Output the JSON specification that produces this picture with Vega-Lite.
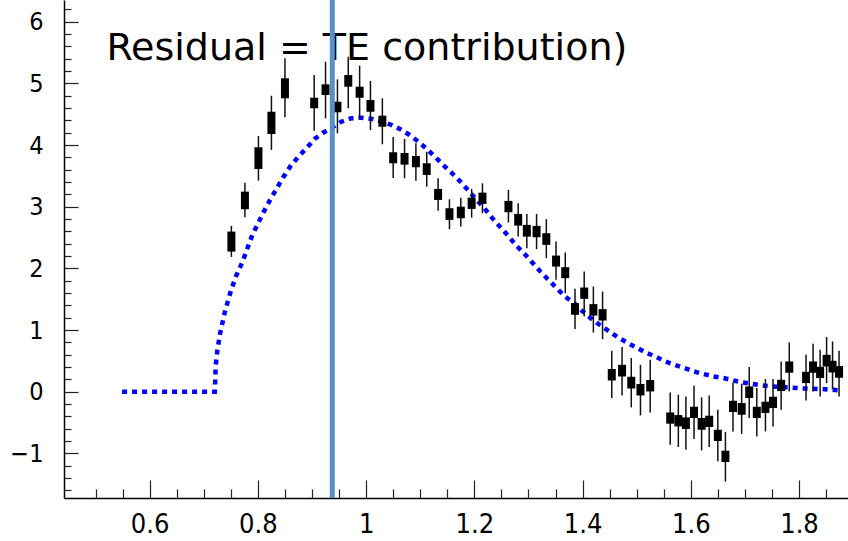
{
  "$schema": "https://vega.github.io/schema/vega-lite/v6.json",
  "width": 784,
  "height": 498,
  "autosize": {"type": "none"},
  "padding": {"left": 64, "top": 0, "right": 0, "bottom": 43},
  "background": "white",
  "config": {
    "view": {"stroke": null},
    "axis": {
      "grid": false,
      "domainColor": "black",
      "domainWidth": 1.5,
      "tickColor": "#222222",
      "tickWidth": 1.2,
      "labelFont": "Liberation Sans Narrow, DejaVu Sans Condensed, Liberation Sans",
      "labelColor": "black",
      "labelOverlap": false,
      "labelFlush": false,
      "title": null
    }
  },
  "resolve": {"axis": {"x": "independent", "y": "independent"}},
  "datasets": {
    "pts": [
      {"x": 0.751, "blo": 2.273, "bhi": 2.597, "ylo": 2.187, "yhi": 2.690},
      {"x": 0.776, "blo": 2.960, "bhi": 3.245, "ylo": 2.830, "yhi": 3.391},
      {"x": 0.801, "blo": 3.613, "bhi": 3.965, "ylo": 3.423, "yhi": 4.148},
      {"x": 0.825, "blo": 4.180, "bhi": 4.541, "ylo": 3.921, "yhi": 4.801},
      {"x": 0.850, "blo": 4.759, "bhi": 5.083, "ylo": 4.451, "yhi": 5.407},
      {"x": 0.904, "blo": 4.597, "bhi": 4.768, "ylo": 4.234, "yhi": 5.136},
      {"x": 0.925, "blo": 4.812, "bhi": 4.985, "ylo": 4.434, "yhi": 5.352},
      {"x": 0.947, "blo": 4.532, "bhi": 4.703, "ylo": 4.191, "yhi": 5.066},
      {"x": 0.967, "blo": 4.947, "bhi": 5.136, "ylo": 4.597, "yhi": 5.433},
      {"x": 0.988, "blo": 4.768, "bhi": 4.947, "ylo": 4.423, "yhi": 5.287},
      {"x": 1.008, "blo": 4.541, "bhi": 4.731, "ylo": 4.245, "yhi": 5.039},
      {"x": 1.030, "blo": 4.298, "bhi": 4.477, "ylo": 4.013, "yhi": 4.759},
      {"x": 1.050, "blo": 3.705, "bhi": 3.884, "ylo": 3.467, "yhi": 4.132},
      {"x": 1.071, "blo": 3.683, "bhi": 3.872, "ylo": 3.462, "yhi": 4.099},
      {"x": 1.092, "blo": 3.641, "bhi": 3.824, "ylo": 3.423, "yhi": 4.029},
      {"x": 1.112, "blo": 3.516, "bhi": 3.705, "ylo": 3.326, "yhi": 3.893},
      {"x": 1.133, "blo": 3.111, "bhi": 3.289, "ylo": 2.937, "yhi": 3.462},
      {"x": 1.154, "blo": 2.787, "bhi": 2.976, "ylo": 2.636, "yhi": 3.122},
      {"x": 1.175, "blo": 2.814, "bhi": 3.002, "ylo": 2.678, "yhi": 3.148},
      {"x": 1.195, "blo": 2.965, "bhi": 3.148, "ylo": 2.824, "yhi": 3.289},
      {"x": 1.215, "blo": 3.046, "bhi": 3.229, "ylo": 2.895, "yhi": 3.381},
      {"x": 1.263, "blo": 2.911, "bhi": 3.095, "ylo": 2.743, "yhi": 3.273},
      {"x": 1.281, "blo": 2.694, "bhi": 2.884, "ylo": 2.516, "yhi": 3.057},
      {"x": 1.297, "blo": 2.516, "bhi": 2.706, "ylo": 2.328, "yhi": 2.884},
      {"x": 1.315, "blo": 2.506, "bhi": 2.690, "ylo": 2.312, "yhi": 2.884},
      {"x": 1.333, "blo": 2.382, "bhi": 2.571, "ylo": 2.166, "yhi": 2.798},
      {"x": 1.351, "blo": 2.030, "bhi": 2.208, "ylo": 1.815, "yhi": 2.435},
      {"x": 1.368, "blo": 1.842, "bhi": 2.020, "ylo": 1.599, "yhi": 2.257},
      {"x": 1.386, "blo": 1.248, "bhi": 1.437, "ylo": 1.016, "yhi": 1.669},
      {"x": 1.403, "blo": 1.507, "bhi": 1.690, "ylo": 1.220, "yhi": 1.949},
      {"x": 1.420, "blo": 1.236, "bhi": 1.421, "ylo": 0.961, "yhi": 1.706},
      {"x": 1.437, "blo": 1.155, "bhi": 1.340, "ylo": 0.854, "yhi": 1.625},
      {"x": 1.454, "blo": 0.183, "bhi": 0.368, "ylo": -0.102, "yhi": 0.664},
      {"x": 1.473, "blo": 0.248, "bhi": 0.437, "ylo": -0.060, "yhi": 0.724},
      {"x": 1.490, "blo": 0.053, "bhi": 0.243, "ylo": -0.254, "yhi": 0.546},
      {"x": 1.507, "blo": -0.060, "bhi": 0.125, "ylo": -0.384, "yhi": 0.437},
      {"x": 1.525, "blo": 0.005, "bhi": 0.190, "ylo": -0.335, "yhi": 0.518},
      {"x": 1.562, "blo": -0.518, "bhi": -0.335, "ylo": -0.859, "yhi": -0.011},
      {"x": 1.577, "blo": -0.562, "bhi": -0.378, "ylo": -0.896, "yhi": -0.049},
      {"x": 1.591, "blo": -0.604, "bhi": -0.416, "ylo": -0.940, "yhi": -0.076},
      {"x": 1.606, "blo": -0.426, "bhi": -0.243, "ylo": -0.766, "yhi": 0.097},
      {"x": 1.620, "blo": -0.616, "bhi": -0.426, "ylo": -0.951, "yhi": -0.092},
      {"x": 1.634, "blo": -0.572, "bhi": -0.389, "ylo": -0.896, "yhi": -0.060},
      {"x": 1.650, "blo": -0.799, "bhi": -0.616, "ylo": -1.129, "yhi": -0.292},
      {"x": 1.664, "blo": -1.139, "bhi": -0.956, "ylo": -1.458, "yhi": -0.653},
      {"x": 1.678, "blo": -0.329, "bhi": -0.146, "ylo": -0.643, "yhi": 0.141},
      {"x": 1.694, "blo": -0.373, "bhi": -0.183, "ylo": -0.685, "yhi": 0.130},
      {"x": 1.708, "blo": -0.102, "bhi": 0.086, "ylo": -0.426, "yhi": 0.400},
      {"x": 1.722, "blo": -0.426, "bhi": -0.243, "ylo": -0.724, "yhi": 0.060},
      {"x": 1.738, "blo": -0.345, "bhi": -0.162, "ylo": -0.643, "yhi": 0.206},
      {"x": 1.752, "blo": -0.264, "bhi": -0.081, "ylo": -0.562, "yhi": 0.206},
      {"x": 1.767, "blo": 0.011, "bhi": 0.194, "ylo": -0.292, "yhi": 0.491},
      {"x": 1.782, "blo": 0.308, "bhi": 0.491, "ylo": 0.005, "yhi": 0.799},
      {"x": 1.813, "blo": 0.141, "bhi": 0.324, "ylo": -0.141, "yhi": 0.599},
      {"x": 1.826, "blo": 0.308, "bhi": 0.491, "ylo": 0.005, "yhi": 0.778},
      {"x": 1.839, "blo": 0.222, "bhi": 0.405, "ylo": -0.076, "yhi": 0.680},
      {"x": 1.851, "blo": 0.410, "bhi": 0.599, "ylo": 0.141, "yhi": 0.886},
      {"x": 1.862, "blo": 0.313, "bhi": 0.502, "ylo": 0.044, "yhi": 0.815},
      {"x": 1.874, "blo": 0.227, "bhi": 0.416, "ylo": -0.076, "yhi": 0.664}
    ],
    "curve": [
      {"x": 0.549, "y": 0.0},
      {"x": 0.7204, "y": 0.0},
      {"x": 0.722, "y": 0.42},
      {"x": 0.725, "y": 0.667},
      {"x": 0.730, "y": 0.943},
      {"x": 0.740, "y": 1.333},
      {"x": 0.750, "y": 1.633},
      {"x": 0.7592, "y": 1.868},
      {"x": 0.7715, "y": 2.106},
      {"x": 0.7897, "y": 2.544},
      {"x": 0.811, "y": 2.921},
      {"x": 0.8226, "y": 3.111},
      {"x": 0.8353, "y": 3.305},
      {"x": 0.8475, "y": 3.488},
      {"x": 0.8596, "y": 3.650},
      {"x": 0.8749, "y": 3.812},
      {"x": 0.8901, "y": 3.953},
      {"x": 0.9047, "y": 4.099},
      {"x": 0.9205, "y": 4.201},
      {"x": 0.9357, "y": 4.277},
      {"x": 0.954, "y": 4.379},
      {"x": 0.9722, "y": 4.435},
      {"x": 0.9904, "y": 4.444},
      {"x": 1.0117, "y": 4.423},
      {"x": 1.030, "y": 4.379},
      {"x": 1.047, "y": 4.326},
      {"x": 1.0634, "y": 4.256},
      {"x": 1.0804, "y": 4.164},
      {"x": 1.0968, "y": 4.055},
      {"x": 1.1121, "y": 3.937},
      {"x": 1.1273, "y": 3.812},
      {"x": 1.1424, "y": 3.678},
      {"x": 1.1577, "y": 3.553},
      {"x": 1.1729, "y": 3.419},
      {"x": 1.1880, "y": 3.273},
      {"x": 1.2033, "y": 3.122},
      {"x": 1.2185, "y": 2.976},
      {"x": 1.2325, "y": 2.824},
      {"x": 1.2471, "y": 2.678},
      {"x": 1.2623, "y": 2.532},
      {"x": 1.2763, "y": 2.382},
      {"x": 1.2915, "y": 2.247},
      {"x": 1.3066, "y": 2.101},
      {"x": 1.3219, "y": 1.949},
      {"x": 1.3371, "y": 1.815},
      {"x": 1.3522, "y": 1.680},
      {"x": 1.3675, "y": 1.544},
      {"x": 1.3845, "y": 1.437},
      {"x": 1.3991, "y": 1.312},
      {"x": 1.415, "y": 1.194},
      {"x": 1.4314, "y": 1.086},
      {"x": 1.4478, "y": 0.988},
      {"x": 1.4648, "y": 0.886},
      {"x": 1.4818, "y": 0.799},
      {"x": 1.4994, "y": 0.718},
      {"x": 1.5164, "y": 0.637},
      {"x": 1.5347, "y": 0.572},
      {"x": 1.5529, "y": 0.491},
      {"x": 1.5701, "y": 0.437},
      {"x": 1.5883, "y": 0.384},
      {"x": 1.6058, "y": 0.329},
      {"x": 1.6241, "y": 0.287},
      {"x": 1.6423, "y": 0.248},
      {"x": 1.6605, "y": 0.222},
      {"x": 1.6788, "y": 0.183},
      {"x": 1.6960, "y": 0.151},
      {"x": 1.7142, "y": 0.125},
      {"x": 1.7324, "y": 0.102},
      {"x": 1.7507, "y": 0.086},
      {"x": 1.7689, "y": 0.076},
      {"x": 1.7883, "y": 0.065},
      {"x": 1.8065, "y": 0.053},
      {"x": 1.8248, "y": 0.049},
      {"x": 1.8419, "y": 0.044},
      {"x": 1.8601, "y": 0.032},
      {"x": 1.8771, "y": 0.021}
    ]
  },
  "layer": [
    {
      "data": {"name": "curve"},
      "mark": {"type": "line", "color": "#0000ff", "strokeWidth": 4.5, "strokeDash": [5, 5], "strokeCap": "butt", "clip": true},
      "encoding": {
        "x": {
          "field": "x", "type": "quantitative",
          "scale": {"domain": [0.4509, 1.8813], "nice": false, "zero": false},
          "axis": {
            "orient": "bottom",
            "values": [0.6, 0.8, 1.0, 1.2, 1.4, 1.6, 1.8],
            "tickSize": -18,
            "labelExpr": "format(datum.value, '~g')",
            "labelFontSize": 27,
            "labelPadding": 31,
            "labelOverlap": false
          }
        },
        "y": {
          "field": "y", "type": "quantitative",
          "scale": {"domain": [-1.723, 6.353], "nice": false, "zero": false},
          "axis": {
            "orient": "left",
            "values": [-1, 0, 1, 2, 3, 4, 5, 6],
            "tickSize": -14,
            "labelExpr": "datum.value < 0 ? '\u2212' + format(abs(datum.value), 'd') : format(datum.value, 'd')",
            "labelFontSize": 25,
            "labelPadding": 35,
            "labelOverlap": false
          }
        }
      }
    },
    {
      "data": {"name": "pts"},
      "mark": {"type": "rule", "color": "#111111", "strokeWidth": 1.5, "clip": true},
      "encoding": {
        "x": {
          "field": "x", "type": "quantitative",
          "axis": {
            "orient": "bottom",
            "values": [0.5, 0.55, 0.65, 0.7, 0.75, 0.85, 0.9, 0.95, 1.05, 1.1, 1.15, 1.25, 1.3, 1.35, 1.45, 1.5, 1.55, 1.65, 1.7, 1.75, 1.85],
            "tickSize": -9,
            "labels": false,
            "domain": false
          }
        },
        "y": {
          "field": "ylo", "type": "quantitative",
          "axis": {
            "orient": "left",
            "values": [-1.6, -1.4, -1.2, -0.8, -0.6, -0.4, -0.2, 0.2, 0.4, 0.6, 0.8, 1.2, 1.4, 1.6, 1.8, 2.2, 2.4, 2.6, 2.8, 3.2, 3.4, 3.6, 3.8, 4.2, 4.4, 4.6, 4.8, 5.2, 5.4, 5.6, 5.8, 6.2],
            "tickSize": -7,
            "labels": false,
            "domain": false
          }
        },
        "y2": {"field": "yhi"}
      }
    },
    {
      "data": {"name": "pts"},
      "mark": {"type": "bar", "color": "black", "width": 8, "orient": "vertical", "clip": true},
      "encoding": {
        "x": {"field": "x", "type": "quantitative", "axis": null},
        "y": {"field": "blo", "type": "quantitative", "axis": null},
        "y2": {"field": "bhi"}
      }
    },
    {
      "data": {"values": [{}]},
      "mark": {"type": "text", "font": "DejaVu Sans", "fontSize": 38, "color": "black", "align": "left", "baseline": "alphabetic"},
      "encoding": {
        "x": {"datum": 0.520, "type": "quantitative", "axis": null},
        "y": {"datum": 5.386, "type": "quantitative", "axis": null},
        "text": {"value": "Residual = TE contribution)"}
      }
    },
    {
      "data": {"values": [{}]},
      "mark": {"type": "rule", "color": "#5b8fc9", "strokeWidth": 5},
      "encoding": {
        "x": {"datum": 0.9375, "type": "quantitative", "axis": null}
      }
    }
  ]
}
